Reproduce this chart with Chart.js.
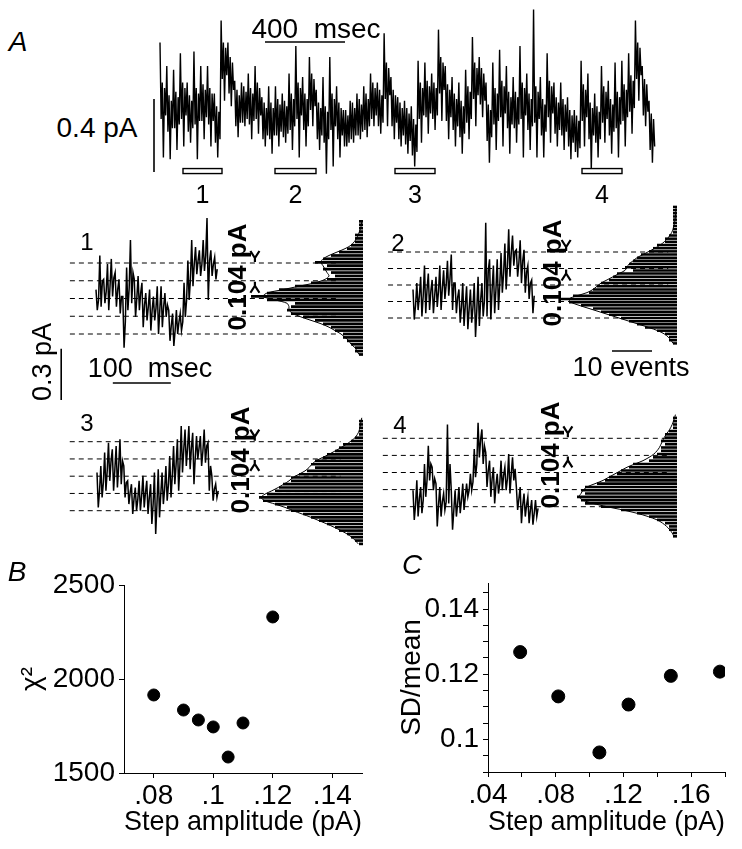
<!DOCTYPE html>
<html>
<head>
<meta charset="utf-8">
<title>Step amplitude</title>
<script src="https://cdn.jsdelivr.net/npm/chart.js@4.4.1/dist/chart.umd.min.js"></script>
<style>
  html, body { margin: 0; padding: 0; background: #fff; }
  #fig { position: relative; width: 742px; height: 849px; overflow: hidden; font-family: 'Liberation Sans', Arial, sans-serif; color: #000; }
  #fig canvas { position: absolute; }
  .lbl { position: absolute; white-space: pre; line-height: 1; transform: translate(-50%, -50%); }
  .rot { transform: translate(-50%, -50%) rotate(-90deg); }
  .it { font-style: italic; }
  .bd { font-weight: bold; }
</style>
</head>
<body>
<div id="fig"></div>
<script>
// ---------- data ----------
// A: whole record (pA), one sample every mainDt ms
const mainDt = 5.66;
const mainTrace = [
  .48,.06,.26,-.15,.23,.08, .35,-.01,.19,-.16,.16,.01, .33,.01,.21,-.11,.18,.03,
  .42,.06,.26,-.09,.23,.08, .26,-.01,.19,-.07,.16,.01, .43,.03,.23,-.16,.20,.05,
  .35,.05,.25,-.05,.22,.07, .35,.03,.23,-.09,.20,.05, .20,-.07,.13,-.15,.10,-.05,
  .60,.28,.48,.16,.45,.30, .48,.20,.40,.13,.37,.22, .27,.02,.22,-.04,.19,.04,
  .26,.04,.24,.02,.21,.06, .31,.03,.23,-.05,.20,.05, .35,.06,.26,-.02,.23,.08,
  .18,-.05,.15,-.09,.12,-.03, .24,-.05,.15,-.13,.12,-.03, .24,-.03,.17,-.09,.14,-.01,
  .20,-.04,.16,-.07,.13,-.02, .31,.00,.20,-.11,.17,.02, .46,.06,.26,-.15,.23,.08,
  .29,.00,.20,-.09,.17,.02, .40,.11,.31,.02,.28,.13, .22,-.05,.15,-.11,.12,-.03,
  .29,-.07,.13,-.24,.10,-.05, .40,.00,.20,-.20,.17,.02, .24,-.05,.15,-.15,.12,-.03,
  .11,-.09,.11,-.09,.08,-.07, .16,-.05,.15,-.07,.12,-.03, .20,-.03,.17,-.05,.14,-.01,
  .24,.00,.20,-.04,.17,.02, .31,.06,.26,.02,.23,.08, .26,.02,.22,-.02,.19,.04,
  .53,.17,.37,.02,.34,.19, .29,.02,.22,-.05,.19,.04, .18,-.05,.15,-.09,.12,-.03,
  .16,-.08,.12,-.13,.09,-.06, .13,-.14,.06,-.20,.03,-.12, .38,.06,.26,-.07,.23,.08,
  .37,.07,.27,-.02,.24,.09, .31,.06,.26,.00,.23,.08, .55,.20,.40,.05,.37,.22,
  .35,.05,.25,-.05,.22,.07, .29,.00,.20,-.09,.17,.02, .26,-.04,.16,-.13,.13,-.02,
  .33,.04,.24,-.05,.21,.06, .51,.17,.37,.02,.34,.19, .40,.14,.34,.07,.31,.16,
  .26,-.06,.14,-.18,.11,-.04, .37,.03,.23,-.11,.20,.05, .44,.07,.27,-.09,.24,.09,
  .35,.01,.21,-.13,.18,.03, .29,.01,.21,-.07,.18,.03, .46,.06,.26,-.15,.23,.08,
  .31,.00,.20,-.11,.17,.02, .66,.04,.24,-.15,.21,.06, .29,-.03,.17,-.15,.14,-.01,
  .42,.07,.27,-.07,.24,.09, .26,-.02,.18,-.09,.15,.00, .26,-.03,.17,-.11,.14,-.01,
  .18,-.09,.11,-.16,.08,-.07, .11,-.12,.08,-.15,.05,-.10, .38,.05,.25,-.09,.22,.07,
  .31,-.05,.15,-.22,.12,-.03, .20,-.07,.13,-.15,.10,-.05, .35,.04,.24,-.07,.21,.06,
  .27,-.03,.17,-.13,.14,-.01, .37,.01,.21,-.15,.18,.03, .38,.05,.25,-.09,.22,.07,
  .42,.10,.30,-.02,.27,.12, .60,.28,.48,.16,.45,.30, .35,.08,.28,.02,.25,.10,
  .16,-.11,.09,-.18,.06,-.09
];
const segWin = [[115, 310], [575, 780], [1175, 1375], [2110, 2310]]; // ms
const segLabels = ['1', '2', '3', '4'];

// expanded segments (pA), one sample every subDt ms
const subDt = 2.2;
const stepAmp = 0.104;
const levels = [0, 0.104, 0.208, 0.312, 0.416];
const trace1 = [
  0.26,0.14,0.20, 0.46,0.16,0.31, 0.32,0.18,0.25, 0.41,0.14,0.28, 0.44,0.22,0.33,
  0.36,0.16,0.26, 0.32,0.12,0.22, 0.22,-0.08,0.07, 0.39,0.14,0.27, 0.55,0.18,0.36,
  0.32,0.10,0.21, 0.34,0.14,0.24, 0.30,0.04,0.17, 0.24,0.08,0.16, 0.26,0.02,0.14,
  0.22,0.08,0.15, 0.28,0.00,0.14, 0.28,0.04,0.16, 0.24,0.10,0.17, 0.14,-0.04,0.05,
  0.12,-0.07,0.02, 0.14,0.00,0.07, 0.12,0.02,0.07, 0.30,0.10,0.20, 0.43,0.20,0.32,
  0.55,0.28,0.41, 0.51,0.35,0.43, 0.49,0.34,0.41, 0.55,0.37,0.46, 0.68,0.20,0.43,
  0.49,0.34,0.41, 0.45,0.32,0.38
];
const trace2 = [
  0.18,-0.01,0.08, 0.22,0.05,0.14, 0.26,0.01,0.14, 0.33,0.03,0.18, 0.28,0.05,0.17,
  0.24,0.03,0.14, 0.26,0.07,0.17, 0.33,0.05,0.19, 0.30,0.12,0.21, 0.36,0.14,0.25,
  0.40,0.05,0.22, 0.22,0.03,0.13, 0.18,-0.03,0.07, 0.22,-0.05,0.08, 0.20,-0.07,0.06,
  0.18,-0.03,0.07, 0.22,-0.12,0.05, 0.26,-0.05,0.11, 0.22,0.01,0.11, 0.60,0.01,0.30,
  0.37,-0.01,0.18, 0.33,0.03,0.18, 0.37,0.05,0.21, 0.41,0.16,0.28, 0.47,0.18,0.33,
  0.56,0.26,0.41, 0.52,0.33,0.42, 0.43,0.26,0.35, 0.49,0.22,0.36, 0.43,0.16,0.29,
  0.33,0.12,0.22, 0.24,0.03,0.14
];
const trace3 = [
  0.23,0.02,0.12, 0.27,0.08,0.17, 0.35,0.12,0.24, 0.41,0.18,0.30, 0.37,0.12,0.25,
  0.39,0.14,0.27, 0.43,0.16,0.30, 0.27,0.08,0.17, 0.18,0.04,0.11, 0.16,-0.02,0.07,
  0.14,0.00,0.07, 0.18,0.00,0.09, 0.21,0.02,0.11, 0.18,-0.02,0.08, 0.16,-0.08,0.04,
  0.23,-0.14,0.04, 0.25,-0.04,0.10, 0.23,0.04,0.13, 0.27,0.06,0.16, 0.33,0.08,0.21,
  0.39,0.16,0.28, 0.43,0.12,0.28, 0.51,0.23,0.37, 0.49,0.27,0.38, 0.51,0.25,0.38,
  0.47,0.16,0.32, 0.45,0.31,0.38, 0.45,0.27,0.36, 0.49,0.29,0.39, 0.41,0.12,0.27,
  0.21,0.06,0.13, 0.16,0.08,0.12
];
const trace4 = [
  0.10,-0.08,0.01, 0.16,-0.06,0.05, 0.12,-0.04,0.04, 0.26,0.06,0.16, 0.37,0.16,0.26,
  0.24,0.10,0.17, 0.14,-0.12,0.01, 0.12,-0.06,0.03, 0.08,-0.02,0.03, 0.50,0.02,0.26,
  0.10,-0.14,-0.02, 0.10,-0.06,0.02, 0.12,-0.04,0.04, 0.14,-0.02,0.06, 0.14,0.06,0.10,
  0.20,0.10,0.15, 0.35,0.18,0.26, 0.51,0.30,0.41, 0.47,0.26,0.37, 0.33,0.12,0.22,
  0.28,0.06,0.17, 0.24,0.02,0.13, 0.20,0.08,0.14, 0.28,0.10,0.19, 0.24,0.10,0.17,
  0.32,0.08,0.20, 0.30,0.16,0.23, 0.12,-0.02,0.05, 0.12,-0.10,0.01, 0.08,-0.06,0.01,
  0.06,-0.10,-0.02, 0.04,-0.11,-0.04, 0.04,-0.06,-0.01
];

// amplitude histograms (events per 0.02 pA bin) and fitted curves
const binWidth = 0.02;
const hist1Start = -0.12;
const hist1 = [1,2,2,3,4,5,5,7,8,10,12,15,18,19,18,17,24,28,24,21,17,13,9,7,8,10,9,12,10,8,6,4,3,2,2,2,1,1,1,1];
const fit1 = [1,1.5,2,3,3.5,4.5,5.5,7,8.5,10.5,13,15.5,17.5,18.5,18.5,19,22,25,24,20,16,12,9.5,8.5,9,9.5,10,10.5,10,8.5,6.5,4.5,3,2.2,1.6,1.2,0.9,0.6,0.4,0.3];
const hist2Start = -0.16;
const hist2 = [1,2,2,3,5,8,10,12,14,17,19,21,24,27,29,26,22,21,20,19,17,16,15,11,13,12,11,10,9,7,6,5,3,3,2,1,1,1,1,1,1,1,1,1];
const fit2 = [1,1.5,2.2,3.2,4.8,7,9.5,12,14.5,17,19.5,22,24.5,26.5,27,25,22.5,21,20,19,17.5,16,14.5,13,12.5,12,11,10,8.5,7,5.5,4.2,3.2,2.4,1.8,1.3,1,0.8,0.6,0.5,0.4,0.3,0.3,0.2];
const hist3Start = -0.20;
const hist3 = [1,2,3,4,6,7,9,11,13,15,18,19,22,25,26,24,22,21,20,18,18,16,14,12,13,12,10,9,7,6,5,3,2,1,1,1,1,1,0];
const fit3 = [1.2,1.9,2.8,4,5.5,7.2,9,11,13,15.2,17.5,19.5,22,24.5,25.5,24.5,22.8,21.2,19.8,18.5,17.5,16,14.5,13.5,12.8,11.8,10.2,8.5,7,5.5,4.2,3,2,1.4,1,0.8,0.6,0.5,0.3];
const hist4Start = -0.18;
const hist4 = [1,1,2,2,3,5,7,10,14,19,23,24,25,23,24,23,20,18,17,15,14,12,11,7,6,5,4,4,3,4,3,3,2,1,1,1,1,0];
const fit4 = [0.8,1.2,1.8,2.6,3.6,5,7.2,10,13.5,17.5,21,23.5,24.5,24,23.5,22.5,20.5,18.5,17,15.5,14,12.5,10.5,8.5,7,5.8,5,4.4,4,3.6,3.2,2.7,2.1,1.6,1.2,0.9,0.6,0.4];

// B: chi-square vs step amplitude
const bAmp = [0.08, 0.09, 0.095, 0.1, 0.105, 0.11, 0.12];
const bChi2 = [1915, 1835, 1782, 1745, 1585, 1766, 2330];
const bXTicks = [0.08, 0.1, 0.12, 0.14];
const bYTicks = [1500, 2000, 2500];

// C: SD/mean vs step amplitude
const cAmp = [0.059, 0.0815, 0.1058, 0.123, 0.148, 0.177];
const cSdMean = [0.1268, 0.1132, 0.096, 0.1107, 0.1195, 0.1208];
const cXTicks = [0.04, 0.06, 0.08, 0.1, 0.12, 0.14, 0.16, 0.18];
const cXLabels = [0.04, 0.08, 0.12, 0.16];
const cYTicks = [0.09, 0.095, 0.1, 0.105, 0.11, 0.115, 0.12, 0.125, 0.13, 0.135, 0.14, 0.145];
const cYLabels = [0.1, 0.12, 0.14];

// ---------- setup ----------
Chart.defaults.font.family = "'Liberation Sans', Arial, sans-serif";
Chart.defaults.color = '#000';
Chart.defaults.animation = false;
Chart.defaults.events = [];
Chart.defaults.plugins.legend.display = false;
Chart.defaults.plugins.tooltip.enabled = false;

const fig = document.getElementById('fig');

function makeCanvas(left, top, w, h) {
  const c = document.createElement('canvas');
  c.width = w; c.height = h;
  c.style.cssText = `left:${left}px;top:${top}px;width:${w}px;height:${h}px`;
  fig.appendChild(c);
  return c;
}

function label(text, x, y, size, cls) {
  const d = document.createElement('div');
  d.className = 'lbl ' + (cls || '');
  d.style.left = x + 'px';
  d.style.top = y + 'px';
  d.style.fontSize = size + 'px';
  d.textContent = text;
  fig.appendChild(d);
}

// scale bars, segment boxes and the step arrows, drawn through the chart scales
function marks(cfg) {
  return {
    id: 'marks',
    afterDatasetsDraw(chart) {
      const {ctx, scales: {x, y}} = chart;
      ctx.save();
      ctx.strokeStyle = '#000';
      ctx.lineWidth = 1.6;
      (cfg.hbars || []).forEach(b => {
        const py = y.getPixelForValue(b.at);
        ctx.beginPath();
        ctx.moveTo(x.getPixelForValue(b.from), py);
        ctx.lineTo(x.getPixelForValue(b.to), py);
        ctx.stroke();
      });
      (cfg.vbars || []).forEach(b => {
        const px = x.getPixelForValue(b.at);
        ctx.beginPath();
        ctx.moveTo(px, y.getPixelForValue(b.from));
        ctx.lineTo(px, y.getPixelForValue(b.to));
        ctx.stroke();
      });
      (cfg.boxes || []).forEach(b => {
        const x0 = x.getPixelForValue(b.from), x1 = x.getPixelForValue(b.to);
        const py = y.getPixelForValue(b.at);
        ctx.fillStyle = '#fff';
        ctx.fillRect(x0, py - 2.5, x1 - x0, 5);
        ctx.lineWidth = 1.4;
        ctx.strokeRect(x0, py - 2.5, x1 - x0, 5);
      });
      (cfg.arrows || []).forEach(a => {
        const px = x.getPixelForValue(a.t);
        ctx.lineWidth = 2.2;
        [[y.getPixelForValue(a.above) - 1, -1], [y.getPixelForValue(a.below) + 1, 1]].forEach(([py, dir]) => {
          ctx.beginPath();
          ctx.moveTo(px, py);
          ctx.lineTo(px, py + dir * 4);
          ctx.moveTo(px - 4.5, py + dir * 11);
          ctx.lineTo(px, py + dir * 4);
          ctx.lineTo(px + 4.5, py + dir * 11);
          ctx.stroke();
        });
      });
      ctx.restore();
    }
  };
}

const hidden = (min, max, extra) => Object.assign({type: 'linear', display: false, min, max}, extra || {});

// ---------- A: full record ----------
const mainGeo = {left: 140, top: 0, w: 525, h: 200, t0x: 160, msPerPx: 5, y0: 130, pAPerPx: 0.00548};
const mainChart = new Chart(makeCanvas(mainGeo.left, mainGeo.top, mainGeo.w, mainGeo.h), {
  type: 'line',
  data: {datasets: [{
    data: mainTrace.map((v, i) => ({x: i * mainDt, y: v})),
    borderColor: '#000', borderWidth: 1.4, pointRadius: 0, tension: 0
  }]},
  options: {
    responsive: false,
    layout: {padding: 0},
    scales: {
      x: hidden((mainGeo.left - mainGeo.t0x) * mainGeo.msPerPx, (mainGeo.left + mainGeo.w - mainGeo.t0x) * mainGeo.msPerPx),
      y: hidden((mainGeo.y0 - mainGeo.top - mainGeo.h) * mainGeo.pAPerPx, (mainGeo.y0 - mainGeo.top) * mainGeo.pAPerPx)
    }
  },
  plugins: [marks({
    hbars: [{from: 525, to: 925, at: 0.482}],             // 400 msec
    vbars: [{at: -30, from: -0.23, to: 0.17}],            // 0.4 pA
    boxes: segWin.map(w => ({from: w[0], to: w[1], at: -0.225}))
  })]
});
segWin.forEach((w, i) => {
  const cx = mainGeo.left + mainChart.scales.x.getPixelForValue((w[0] + w[1]) / 2);
  label(segLabels[i], cx, 194, 25);
});

// ---------- A: expanded segments with histograms ----------
const PX_PER_MS = 0.58, PX_PER_EVENT = 4, HIST_W = 150;
const subs = [
  {trace: trace1, hist: hist1, fit: fit1, hStart: hist1Start, left: 50, top: 205, w: 313, h: 200, t0x: 96, l0y: 334, lvlPx: 17.75,
   dash: [-45, 420], arrowT: 274, hbars: [{from: 29, to: 129, at: -0.287}], vbars: [{at: -60, from: -0.387, to: -0.087}]},
  {trace: trace2, hist: hist2, fit: fit2, hStart: hist2Start, left: 380, top: 200, w: 297, h: 160, t0x: 413, l0y: 318, lvlPx: 16.5,
   dash: [-43, 440], arrowT: 264, countBars: [{from: 6.25, to: 16.25, at: -0.208}]},
  {trace: trace3, hist: hist3, fit: fit3, hStart: hist3Start, left: 50, top: 405, w: 313, h: 150, t0x: 97, l0y: 510.7, lvlPx: 17.25,
   dash: [-47, 420], arrowT: 272},
  {trace: trace4, hist: hist4, fit: fit4, hStart: hist4Start, left: 380, top: 400, w: 297, h: 150, t0x: 413, l0y: 506.7, lvlPx: 17.1,
   dash: [-52, 440], arrowT: 267}
];

subs.forEach(p => {
  const pApx = stepAmp / p.lvlPx;
  const yMin = (p.l0y - p.top - p.h) * pApx, yMax = (p.l0y - p.top) * pApx;
  const levelSets = levels.map(lv => ({
    data: [{x: p.dash[0], y: lv}, {x: p.dash[1], y: lv}],
    borderColor: '#000', borderWidth: 1, borderDash: [5, 4], pointRadius: 0
  }));
  new Chart(makeCanvas(p.left, p.top, p.w, p.h), {
    type: 'line',
    data: {datasets: levelSets.concat([{
      data: p.trace.map((v, i) => ({x: i * subDt, y: v})),
      borderColor: '#000', borderWidth: 1.5, pointRadius: 0, tension: 0
    }])},
    options: {
      responsive: false,
      layout: {padding: 0},
      scales: {
        x: hidden((p.left - p.t0x) / PX_PER_MS, (p.left + p.w - p.t0x) / PX_PER_MS),
        y: hidden(yMin, yMax)
      }
    },
    plugins: [marks({
      hbars: p.hbars, vbars: p.vbars,
      arrows: [{t: p.arrowT, above: levels[4], below: levels[3]}]
    })]
  });

  new Chart(makeCanvas(p.left + p.w - HIST_W, p.top, HIST_W, p.h), {
    type: 'bar',
    data: {datasets: [
      {
        type: 'bar',
        data: p.hist.map((c, i) => ({x: c, y: p.hStart + i * binWidth})),
        backgroundColor: '#000', borderWidth: 0, barPercentage: 0.8, categoryPercentage: 1
      },
      {
        type: 'line',
        data: p.fit.map((c, i) => ({x: c, y: p.hStart + i * binWidth})),
        borderColor: '#000', borderWidth: 1, pointRadius: 0, tension: 0.3
      }
    ]},
    options: {
      responsive: false,
      indexAxis: 'y',
      layout: {padding: 0},
      scales: {
        x: hidden(0, HIST_W / PX_PER_EVENT, {reverse: true}),
        y: hidden(yMin, yMax, {offset: false})
      }
    },
    plugins: [marks({hbars: p.countBars})]
  });
});

// ---------- B and C ----------
const tickFont = {size: 28};
const shortNum = v => String(v).replace(/^0\./, '.');

function axisX(min, max, ticks, labelled, height) {
  return {
    type: 'linear', min, max,
    afterBuildTicks: s => { s.ticks = ticks.map(v => ({value: v})); },
    afterFit: s => { s.height = height; },
    ticks: {font: tickFont, padding: 1, maxRotation: 0, autoSkip: false,
            callback: v => labelled.includes(v) ? shortNum(v) : ''},
    grid: {drawOnChartArea: false, tickLength: 5, color: '#000'},
    border: {color: '#000', width: 1},
    title: {display: true, text: 'Step amplitude (pA)', font: {size: 28}, padding: {top: 0, bottom: 10}}
  };
}
function axisY(min, max, ticks, labelled, width, title) {
  return {
    type: 'linear', min, max,
    afterBuildTicks: s => { s.ticks = ticks.map(v => ({value: v})); },
    afterFit: s => { s.width = width; },
    ticks: {font: tickFont, padding: 4, autoSkip: false,
            callback: v => labelled.includes(v) ? String(v) : ''},
    grid: {drawOnChartArea: false, tickLength: 5, color: '#000'},
    border: {color: '#000', width: 1},
    title: {display: true, text: title, font: {size: 28}, padding: {top: 15, bottom: 0}}
  };
}

new Chart(makeCanvas(0, 555, 380, 294), {
  type: 'scatter',
  data: {datasets: [{
    data: bAmp.map((a, i) => ({x: a, y: bChi2[i]})),
    backgroundColor: '#000', borderColor: '#000', pointRadius: 6
  }]},
  options: {
    responsive: false,
    layout: {padding: {top: 30, right: 18, left: 0, bottom: 0}},
    scales: {
      x: axisX(0.07, 0.15, bXTicks, bXTicks, 76),
      y: axisY(1500, 2500, bYTicks, bYTicks, 124, 'χ²')
    }
  }
});

new Chart(makeCanvas(380, 555, 362, 294), {
  type: 'scatter',
  data: {datasets: [{
    data: cAmp.map((a, i) => ({x: a, y: cSdMean[i]})),
    backgroundColor: '#000', borderColor: '#000', pointRadius: 6.5
  }]},
  options: {
    responsive: false,
    layout: {padding: {top: 28, right: 17, left: 0, bottom: 0}},
    scales: {
      x: axisX(0.04, 0.18, cXTicks, cXLabels, 77),
      y: axisY(0.09, 0.148, cYTicks, cYLabels, 108, 'SD/mean')
    }
  }
});

// ---------- text ----------
label('A', 18, 42, 28, 'it');
label('400  msec', 316, 29, 28);
label('0.4 pA', 97, 128, 28);
label('1', 87, 242, 24);
label('2', 398, 243, 24);
label('3', 87, 423, 24);
label('4', 400, 425, 24);
label('0.104 pA', 237, 277, 26, 'rot bd');
label('0.104 pA', 552, 273, 26, 'rot bd');
label('0.104 pA', 240, 460, 26, 'rot bd');
label('0.104 pA', 550, 455, 26, 'rot bd');
label('100  msec', 150, 368, 27);
label('10 events', 631, 367, 27);
label('0.3 pA', 42, 362, 27, 'rot');
label('B', 17, 572, 28, 'it');
label('C', 412, 565, 28, 'it');
</script>
</body>
</html>
